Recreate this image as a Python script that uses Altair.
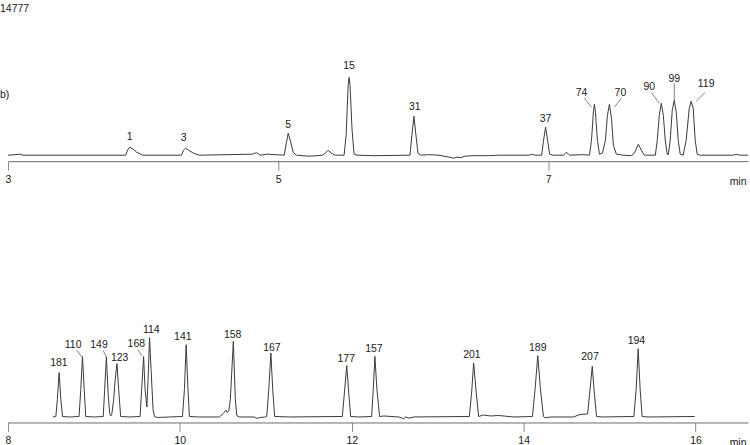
import altair as alt
import pandas as pd

FONT = "Liberation Sans"

# ---------------- top panel (b) : 3 - 8.5 min ----------------
top_time = [3.000, 3.052, 3.089, 3.111, 3.872, 3.886, 3.901, 3.923, 3.953, 3.997,
            4.285, 4.300, 4.315, 4.337, 4.374, 4.418, 4.810, 4.839, 4.869, 4.920,
            4.979, 5.046, 5.061, 5.075, 5.090, 5.112, 5.135, 5.231, 5.290, 5.327,
            5.349, 5.371, 5.393, 5.423, 5.489, 5.504, 5.519, 5.526, 5.533, 5.548,
            5.563, 5.585, 5.711, 5.977, 5.991, 6.006, 6.021, 6.036, 6.058, 6.117,
            6.191, 6.265, 6.302, 6.324, 6.353, 6.383, 6.449, 6.560, 6.634, 6.860,
            6.878, 6.900, 6.952, 6.966, 6.981, 6.996, 7.011, 7.033, 7.114, 7.136,
            7.158, 7.262, 7.306, 7.321, 7.336, 7.343, 7.350, 7.365, 7.380, 7.392,
            7.402, 7.424, 7.439, 7.454, 7.469, 7.483, 7.505, 7.557, 7.616, 7.638,
            7.668, 7.690, 7.712, 7.794, 7.808, 7.823, 7.838, 7.853, 7.867, 7.882,
            7.890, 7.904, 7.919, 7.934, 7.949, 7.963, 7.978, 8.000, 8.022, 8.045,
            8.059, 8.074, 8.089, 8.104, 8.126, 8.370, 8.392, 8.421, 8.480]
top_signal = [0, 0.5, 1, 0, 0, 5, 8, 6.5, 3, 0,
              0, 5, 7, 5, 2, 0, 1, 2.5, 0, 1,
              0.5, 0, 12, 22, 15, 3, 0, -1, -0.5, 0,
              2, 5, 2, 0, 0, 20, 70, 78, 70, 25,
              1, 0, -0.5, 0, 20, 39, 20, 2, 0, 0.5,
              0, -2, -3, -2, -2.5, -1, -0.5, -0.5, 0, 0,
              1, 0, 0, 15, 28, 15, 1, 0, 0, 3,
              0, 0.5, 0, 15, 45, 51, 43, 15, 1, 1.5,
              2, 15, 40, 51, 37, 10, 1, 0, -0.5, 2,
              11, 5, 0, 0, 15, 40, 52, 40, 15, 1,
              0.5, 15, 45, 55, 43, 15, 1, 0, 15, 47,
              54, 47, 15, 1, 0, 0, 1, 0, 0]

top_label_text = ["1", "3", "5", "15", "31", "37", "74", "70", "90", "99", "119"]
top_label_time = [3.901, 4.300, 5.075, 5.526, 6.013, 6.981, 7.247, 7.535, 7.749, 7.934, 8.170]
top_label_sig = [18, 17, 30, 89, 48, 36, 62, 62, 68, 76, 71]

top_leader_t1 = [7.269, 7.542, 7.764, 7.934, 8.163]
top_leader_s1 = [57, 57, 63, 72, 63]
top_leader_t2 = [7.321, 7.491, 7.823, 7.934, 8.096]
top_leader_s2 = [48, 48, 52, 55, 54]

top_ticks = [3, 5, 7]
top_domain = [3.0, 8.480]
top_sig_domain = [-6, 155]

# ---------------- bottom panel : 8 - 16 min ----------------
bottom_time = [8.522, 8.557, 8.574, 8.595, 8.615, 8.635, 8.719, 8.827, 8.847, 8.867,
               8.887, 8.905, 9.009, 9.108, 9.125, 9.145, 9.166, 9.183, 9.195, 9.207,
               9.230, 9.247, 9.268, 9.288, 9.311, 9.415, 9.537, 9.555, 9.578, 9.595,
               9.616, 9.630, 9.647, 9.665, 9.688, 9.705, 9.740, 9.879, 10.030, 10.053,
               10.073, 10.094, 10.111, 10.227, 10.459, 10.506, 10.537, 10.552, 10.570, 10.587,
               10.622, 10.645, 10.662, 10.691, 10.865, 10.900, 10.935, 10.993, 11.011, 11.034,
               11.059, 11.080, 11.103, 11.272, 11.890, 11.915, 11.941, 11.964, 11.987, 12.084,
               12.231, 12.250, 12.269, 12.292, 12.324, 12.374, 12.548, 12.606, 12.625, 12.664,
               12.722, 13.368, 13.395, 13.418, 13.447, 13.476, 13.534, 13.615, 13.708, 13.882,
               14.102, 14.133, 14.164, 14.195, 14.230, 14.249, 14.311, 14.578, 14.655, 14.744,
               14.769, 14.798, 14.821, 14.848, 14.926, 15.282, 15.309, 15.332, 15.355, 15.378,
               15.448, 15.990]
bottom_signal = [0, 0.5, 17.5, 44.5, 17.5, 0.5, 0, 0.5, 27.5, 60.5,
                 27.5, 0.5, 0, 0.5, 27.5, 60.5, 22.5, 3.5, 1, 2.5,
                 17.5, 37.5, 53.5, 27.5, 0.5, 0, 0.5, 27.5, 60.5, 27.5,
                 10, 37.5, 79.5, 47.5, 7.5, 0.5, -0.5, 0, 0.5, 27.5,
                 72.5, 27.5, 0.5, 0, 0, 3.5, 6.8, 4.5, 6.5, 17.5,
                 75.8, 17.5, 1.5, 0, 0, -1.5, -0.5, 0, 0.5, 27.5,
                 64.2, 27.5, 0.5, 0, 0.5, 25, 51.5, 25, 0.5, 0,
                 0.5, 28, 60.8, 28, 0.5, 1, 0, -1.8, 0.2, -1.2,
                 0, 0.5, 25, 54.2, 25, 0.5, 2, 1, 1.5, 0,
                 0.5, 28, 61.5, 28, 0.5, -0.8, 0, 0, 2.5, 3,
                 25, 50.8, 25, 0.5, 0, 0.5, 28, 68.5, 28, 0.5,
                 0, 0.5]

bottom_label_text = ["181", "110", "149", "123", "168", "114", "141", "158", "167",
                     "177", "157", "201", "189", "207", "194"]
bottom_label_time = [8.592, 8.758, 9.059, 9.299, 9.493, 9.667, 10.034, 10.614, 11.071,
                     11.936, 12.258, 13.398, 14.164, 14.772, 15.312]
bottom_label_sig = [54.2, 72.5, 72.5, 59.2, 73.5, 87.5, 80.2, 82.5, 69.2,
                    58.2, 68.2, 62.5, 69.2, 59.8, 76.5]

bottom_leader_t1 = [8.804, 9.106, 9.512]
bottom_leader_s1 = [66.8, 66.8, 67.5]
bottom_leader_t2 = [8.858, 9.145, 9.563]
bottom_leader_s2 = [60.2, 60.2, 60.8]

bottom_ticks = [8, 10, 12, 14, 16]
bottom_domain = [8.0, 16.61]
bottom_sig_domain = [-5.5, 127.5]

# free annotations placed in the top panel's data space
note_text = ["14777", "b)"]
note_time = [2.941, 2.941]
note_sig = [147, 60]

LINE = "#3a3a3a"
TEXT = "#1a1a1a"
FS = 10.5


def panel(times, sig, lt, ltime, lsig, l1t, l1s, l2t, l2s, xdom, ydom, ticks, height,
          notes=None):
    trace = pd.DataFrame({"t": times, "s": sig})
    labels = pd.DataFrame({"t": ltime, "s": lsig, "txt": lt})
    leaders = pd.DataFrame({"t": l1t, "s": l1s, "t2": l2t, "s2": l2s})

    xs = alt.Scale(domain=xdom, nice=False, zero=False)
    ys = alt.Scale(domain=ydom, nice=False, zero=False)
    xaxis = alt.Axis(values=ticks, title="min", titleAnchor="end", titleAlign="right",
                     titleX=740, titleY=20, titleBaseline="middle",
                     titleFontWeight="normal", titleFontSize=FS, titleFont=FONT,
                     titleColor=TEXT, labelFont=FONT, labelFontSize=FS,
                     labelColor=TEXT, labelPadding=4, labelFlush=False,
                     labelOverlap=False, tickSize=9, tickColor="#8a8a8a",
                     tickWidth=1, domainColor="#6a6a6a", domainWidth=1,
                     grid=False, format="d")

    line = alt.Chart(trace).mark_line(color=LINE, strokeWidth=1, clip=False).encode(
        x=alt.X("t:Q", scale=xs, axis=xaxis),
        y=alt.Y("s:Q", scale=ys, axis=None),
        order="t:Q",
    )
    lead = alt.Chart(leaders).mark_rule(color="#666", strokeWidth=0.8).encode(
        x="t:Q", y="s:Q", x2="t2:Q", y2="s2:Q")
    text = alt.Chart(labels).mark_text(font=FONT, fontSize=FS, color=TEXT,
                                       align="center", baseline="middle").encode(
        x="t:Q", y="s:Q", text="txt:N")
    layers = [line, lead, text]
    if notes is not None:
        nd = pd.DataFrame({"t": notes[1], "s": notes[2], "txt": notes[0]})
        layers.append(alt.Chart(nd).mark_text(font=FONT, fontSize=FS, color=TEXT,
                                              align="left", baseline="middle").encode(
            x="t:Q", y="s:Q", text="txt:N"))
    return alt.layer(*layers).properties(width=742, height=height)


top = panel(top_time, top_signal, top_label_text, top_label_time, top_label_sig,
            top_leader_t1, top_leader_s1, top_leader_t2, top_leader_s2,
            top_domain, top_sig_domain, top_ticks, 161,
            notes=(note_text, note_time, note_sig))
bottom = panel(bottom_time, bottom_signal, bottom_label_text, bottom_label_time,
               bottom_label_sig, bottom_leader_t1, bottom_leader_s1, bottom_leader_t2,
               bottom_leader_s2, bottom_domain, bottom_sig_domain, bottom_ticks, 133)

chart = alt.vconcat(top, bottom, spacing=129, bounds="flush").properties(
    padding=0, background="white"
).configure_view(stroke=None).configure_concat(spacing=129)

chart.save("out.html", embed_options={"renderer": "svg", "actions": False})
